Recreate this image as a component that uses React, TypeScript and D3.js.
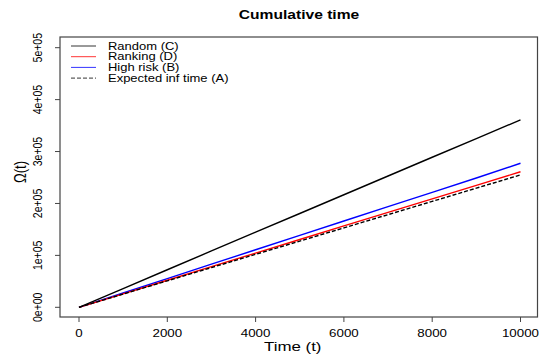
import React from "react";
import * as d3 from "d3";

const times = [0, 1000, 2000, 3000, 4000, 5000, 6000, 7000, 8000, 9000, 10000];
const randomC = [0, 36000, 72300, 108500, 144600, 180700, 216800, 252900, 289000, 325000, 361000];
const rankingD = [0, 26000, 52100, 78200, 104400, 130500, 156700, 182800, 208900, 234900, 261000];
const highRiskB = [0, 27500, 55200, 83000, 110800, 138600, 166200, 193800, 221500, 249000, 277500];
const expectedA = [0, 25500, 51000, 76500, 102000, 127500, 153000, 178500, 204000, 229500, 255000];

const xTicks = [0, 2000, 4000, 6000, 8000, 10000];
const yTicks = [0, 100000, 200000, 300000, 400000, 500000];
const yTickLabels = ["0e+00", "1e+05", "2e+05", "3e+05", "4e+05", "5e+05"];

const seriesNames = ["Random (C)", "Ranking (D)", "High risk (B)", "Expected inf time (A)"];
const seriesColors = ["#000000", "#ff0000", "#0000ff", "#000000"];
const seriesDash = ["", "", "", "4,2"];

export default function App() {
  const W = 555, H = 354;
  const left = 60, right = 537.5, top = 37, bottom = 317;
  const x = d3.scaleLinear().domain([0, 10000]).range([79, 520.5]);
  const y = d3.scaleLinear().domain([0, 500000]).range([307.3, 47.7]);
  const data = [randomC, rankingD, highRiskB, expectedA];
  const line = (vals: number[]) =>
    d3.line<number>().x((_, i) => x(times[i])).y((v) => y(v))(vals) || "";
  const font = "Liberation Sans, Arial, Helvetica, sans-serif";
  const sx = 1.25;
  return (
    <svg width={W} height={H} style={{ position: "absolute", left: 0, top: 0 }} fontFamily={font}>
      <rect width={W} height={H} fill="#fff" />
      <text transform={`translate(299,19) scale(${sx},1)`} textAnchor="middle" fontWeight="bold" fontSize={12.5}>Cumulative time</text>
      {[2, 1, 3, 0].map((i) => (
        <path key={i} d={line(data[i])} fill="none" stroke={seriesColors[i]} strokeWidth={1.4}
          strokeDasharray={seriesDash[i] || undefined} />
      ))}
      <rect x={left} y={top} width={right - left} height={bottom - top} fill="none" stroke="#444" strokeWidth={1.2} />
      {xTicks.map((t) => (
        <g key={t}>
          <line x1={x(t)} x2={x(t)} y1={bottom} y2={bottom + 5} stroke="#444" strokeWidth={1} />
          <text transform={`translate(${x(t)},337) scale(1.27,1)`} textAnchor="middle" fontSize={10.5}>{t}</text>
        </g>
      ))}
      {yTicks.map((t, i) => (
        <g key={t}>
          <line x1={left - 5} x2={left} y1={y(t)} y2={y(t)} stroke="#444" strokeWidth={1} />
          <text transform={`translate(41.5,${y(t)}) scale(1.25,1) rotate(-90)`} textAnchor="middle" fontSize={10.5}>{yTickLabels[i]}</text>
        </g>
      ))}
      <text transform={`translate(${(left + right) / 2 - 6},351) scale(1.25,1)`} textAnchor="middle" fontSize={13.5}>Time (t)</text>
      <text transform={`translate(26,172) scale(1.25,1) rotate(-90)`} textAnchor="middle" fontSize={13}>Ω(t)</text>
      {seriesNames.map((n, i) => (
        <g key={n}>
          <line x1={71} x2={96} y1={46 + i * 10.7} y2={46 + i * 10.7} stroke={seriesColors[i]}
            strokeWidth={0.8} strokeDasharray={seriesDash[i] || undefined} />
          <text transform={`translate(108,${46 + i * 10.7 + 3.6}) scale(1.3,1)`} fontSize={10}>{n}</text>
        </g>
      ))}
    </svg>
  );
}
